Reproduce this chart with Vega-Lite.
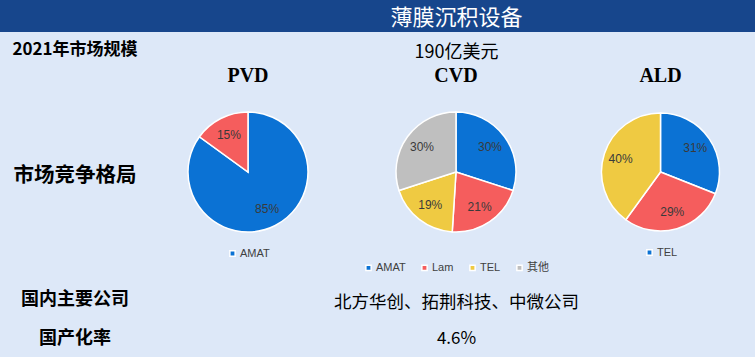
{
  "$schema": "https://vega.github.io/schema/vega-lite/v6.json",
  "background": "#dde8f8",
  "padding": 0,
  "spacing": 0,
  "config": {
    "view": {"stroke": null},
    "concat": {"spacing": 0},
    "legend": {"layout": {"bottom": {"anchor": "middle"}}}
  },
  "datasets": {
    "shares": [
      {"tech": "PVD", "company": "AMAT", "share": 0.85, "idx": 1},
      {"tech": "PVD", "company": "其他", "share": 0.15, "idx": 2},
      {"tech": "CVD", "company": "AMAT", "share": 0.30, "idx": 1},
      {"tech": "CVD", "company": "Lam", "share": 0.21, "idx": 2},
      {"tech": "CVD", "company": "TEL", "share": 0.19, "idx": 3},
      {"tech": "CVD", "company": "其他", "share": 0.30, "idx": 4},
      {"tech": "ALD", "company": "TEL", "share": 0.31, "idx": 1},
      {"tech": "ALD", "company": "ASM", "share": 0.29, "idx": 2},
      {"tech": "ALD", "company": "其他", "share": 0.40, "idx": 3}
    ]
  },
  "vconcat": [
    {
      "spacing": 0,
      "hconcat": [
        {"width": 150, "height": 32, "view": {"fill": "#17468c"}, "data": {"values": [{"t": ""}]}, "mark": {"type": "text"}, "encoding": {"text": {"field": "t"}}},
        {"width": 605, "height": 32, "view": {"fill": "#17468c"}, "data": {"values": [{"t": "薄膜沉积设备"}]}, "mark": {"type": "text", "font": "Noto Sans CJK SC", "fontSize": 22, "fill": "#ffffff", "dx": 4, "dy": 2}, "encoding": {"text": {"field": "t"}}}
      ]
    },
    {
      "spacing": 0,
      "hconcat": [
        {"width": 150, "height": 32, "data": {"values": [{"t": "2021年市场规模"}]}, "mark": {"type": "text", "font": "Noto Sans CJK SC", "fontWeight": "bold", "fontSize": 17, "fill": "#000000", "dy": 2}, "encoding": {"text": {"field": "t"}}},
        {"width": 605, "height": 32, "data": {"values": [{"t": "190亿美元"}]}, "mark": {"type": "text", "font": "Noto Sans CJK SC", "fontSize": 18, "fill": "#000000", "dy": 5, "dx": 4}, "encoding": {"text": {"field": "t"}}}
      ]
    },
    {
      "spacing": 0,
      "hconcat": [
        {"width": 150, "height": 216, "data": {"values": [{"t": "市场竞争格局"}]}, "mark": {"type": "text", "font": "Noto Sans CJK SC", "fontWeight": "bold", "fontSize": 20.5, "fill": "#000000", "dy": 4}, "encoding": {"text": {"field": "t"}}},
        {
          "spacing": 0,
          "resolve": {"scale": {"color": "independent", "theta": "independent"}, "legend": {"color": "independent"}},
          "hconcat": [
            {
              "width": 196, "height": 216,
              "title": {"text": "PVD", "font": "Liberation Serif", "fontSize": 20, "fontWeight": "bold", "color": "#000000", "offset": -22},
              "data": {"name": "shares"},
              "transform": [{"filter": "datum.tech === 'PVD'"}],
              "encoding": {
                "theta": {"field": "share", "type": "quantitative", "stack": true},
                "order": {"field": "idx", "type": "quantitative"},
                "color": {"field": "company", "type": "nominal",
                  "scale": {"domain": ["AMAT", "其他"], "range": ["#0b72d4", "#f55d5d"]},
                  "legend": {"orient": "bottom", "direction": "horizontal", "title": null, "values": ["AMAT"], "symbolType": "square", "symbolSize": 28, "labelOffset": 2, "labelFontSize": 11, "labelFont": "Liberation Sans, Noto Sans CJK SC", "labelColor": "#404040", "offset": -32}}
              },
              "layer": [
                {"mark": {"type": "arc", "outerRadius": 60, "stroke": "#ffffff", "strokeWidth": 1.5}},
                {"mark": {"type": "text", "radius": 42, "fontSize": 12, "font": "Liberation Sans"}, "encoding": {"text": {"field": "share", "type": "quantitative", "format": ".0%"}, "color": {"value": "#3a3a3a"}}}
              ]
            },
            {
              "width": 220, "height": 216,
              "title": {"text": "CVD", "font": "Liberation Serif", "fontSize": 20, "fontWeight": "bold", "color": "#000000", "offset": -22},
              "data": {"name": "shares"},
              "transform": [{"filter": "datum.tech === 'CVD'"}],
              "encoding": {
                "theta": {"field": "share", "type": "quantitative", "stack": true},
                "order": {"field": "idx", "type": "quantitative"},
                "color": {"field": "company", "type": "nominal",
                  "scale": {"domain": ["AMAT", "Lam", "TEL", "其他"], "range": ["#0b72d4", "#f55d5d", "#efca42", "#bfbfbf"]},
                  "legend": {"orient": "bottom", "direction": "horizontal", "title": null, "symbolType": "square", "symbolSize": 28, "labelOffset": 2, "columnPadding": 12, "labelFontSize": 11, "labelFont": "Liberation Sans, Noto Sans CJK SC", "labelColor": "#404040", "offset": -18}}
              },
              "layer": [
                {"mark": {"type": "arc", "outerRadius": 60, "stroke": "#ffffff", "strokeWidth": 1.5}},
                {"mark": {"type": "text", "radius": 42, "fontSize": 12, "font": "Liberation Sans"}, "encoding": {"text": {"field": "share", "type": "quantitative", "format": ".0%"}, "color": {"value": "#3a3a3a"}}}
              ]
            },
            {
              "width": 189, "height": 216,
              "title": {"text": "ALD", "font": "Liberation Serif", "fontSize": 20, "fontWeight": "bold", "color": "#000000", "offset": -22},
              "data": {"name": "shares"},
              "transform": [{"filter": "datum.tech === 'ALD'"}],
              "encoding": {
                "theta": {"field": "share", "type": "quantitative", "stack": true},
                "order": {"field": "idx", "type": "quantitative"},
                "color": {"field": "company", "type": "nominal",
                  "scale": {"domain": ["TEL", "ASM", "其他"], "range": ["#0b72d4", "#f55d5d", "#efca42"]},
                  "legend": {"orient": "bottom", "direction": "horizontal", "title": null, "values": ["TEL"], "symbolType": "square", "symbolSize": 28, "labelOffset": 2, "labelFontSize": 11, "labelFont": "Liberation Sans, Noto Sans CJK SC", "labelColor": "#404040", "offset": -33}}
              },
              "layer": [
                {"mark": {"type": "arc", "outerRadius": 59, "stroke": "#ffffff", "strokeWidth": 1.5}},
                {"mark": {"type": "text", "radius": 42, "fontSize": 12, "font": "Liberation Sans"}, "encoding": {"text": {"field": "share", "type": "quantitative", "format": ".0%"}, "color": {"value": "#3a3a3a"}}}
              ]
            }
          ]
        }
      ]
    },
    {
      "spacing": 0,
      "hconcat": [
        {"width": 150, "height": 40, "data": {"values": [{"t": "国内主要公司"}]}, "mark": {"type": "text", "font": "Noto Sans CJK SC", "fontWeight": "bold", "fontSize": 18, "fill": "#000000", "dy": 0}, "encoding": {"text": {"field": "t"}}},
        {"width": 605, "height": 40, "data": {"values": [{"t": "北方华创、拓荆科技、中微公司"}]}, "mark": {"type": "text", "font": "Noto Sans CJK SC", "fontSize": 17.5, "fill": "#000000", "dy": 3, "dx": 4}, "encoding": {"text": {"field": "t"}}}
      ]
    },
    {
      "spacing": 0,
      "hconcat": [
        {"width": 150, "height": 35, "data": {"values": [{"t": "国产化率"}]}, "mark": {"type": "text", "font": "Noto Sans CJK SC", "fontWeight": "bold", "fontSize": 18, "fill": "#000000", "dy": 1}, "encoding": {"text": {"field": "t"}}},
        {"width": 605, "height": 35, "data": {"values": [{"t": "4.6%"}]}, "mark": {"type": "text", "font": "Noto Sans CJK SC", "fontSize": 17, "fill": "#000000", "dy": 1, "dx": 4}, "encoding": {"text": {"field": "t"}}}
      ]
    },
    {
      "spacing": 0,
      "hconcat": [
        {"width": 150, "height": 2, "data": {"values": [{"t": ""}]}, "mark": {"type": "text"}, "encoding": {"text": {"field": "t"}}},
        {"width": 605, "height": 2, "view": {"fill": "#ffffff"}, "data": {"values": [{"t": ""}]}, "mark": {"type": "text"}, "encoding": {"text": {"field": "t"}}}
      ]
    }
  ]
}
